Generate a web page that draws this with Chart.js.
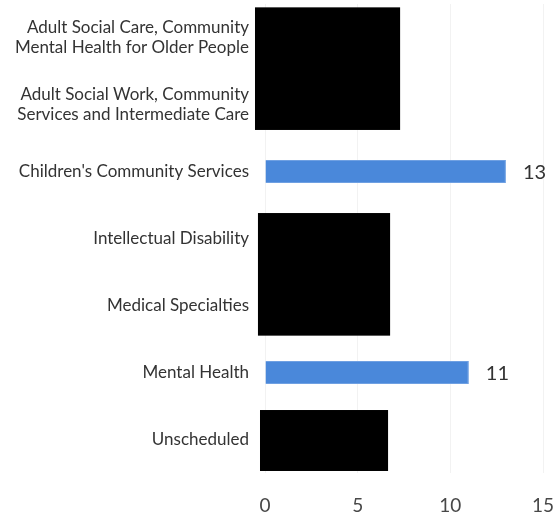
<!DOCTYPE html>
<html>
<head>
<meta charset="utf-8">
<script src="https://cdn.jsdelivr.net/npm/chart.js@4"></script>
<style>
  html, body { margin: 0; padding: 0; background: #fff; }
  #wrap { width: 558px; height: 519px; }
</style>
</head>
<body>
<div id="wrap"><canvas id="chart"></canvas></div>
<script>
const categories = [
  ["Adult Social Care, Community", "Mental Health for Older People"],
  ["Adult Social Work, Community", "Services and Intermediate Care"],
  "Children's Community Services",
  "Intellectual Disability",
  "Medical Specialties",
  "Mental Health",
  "Unscheduled"
];
// redacted values are unknown (blacked out in the source)
const counts = [null, null, 13, null, null, 11, null];
const xTicks = [0, 5, 10, 15];

// black redaction boxes over the hidden bars, in axis units (category index / x value)
const redactions = [
  { yFrom: -0.45, yTo: 1.38, xMin: -0.54, xMax: 7.29 },
  { yFrom: 2.62, yTo: 4.45, xMin: -0.38, xMax: 6.75 },
  { yFrom: 5.56, yTo: 6.47, xMin: -0.27, xMax: 6.64 }
];

const valueLabels = {
  id: 'valueLabels',
  afterDatasetsDraw(chart) {
    const ctx = chart.ctx;
    const meta = chart.getDatasetMeta(0);
    ctx.save();
    ctx.font = '20px Lato';
    ctx.fillStyle = '#333';
    ctx.textBaseline = 'middle';
    meta.data.forEach((bar, i) => {
      if (counts[i] == null) return;
      ctx.fillText(String(counts[i]), bar.x + 17, bar.y + 1);
    });
    ctx.restore();
  }
};

const redact = {
  id: 'redact',
  afterDraw(chart) {
    const ctx = chart.ctx;
    const xs = chart.scales.x, ys = chart.scales.y;
    const y0 = ys.getPixelForValue(0);
    const step = ys.getPixelForValue(1) - y0;
    ctx.save();
    ctx.fillStyle = '#000';
    redactions.forEach(r => {
      const top = y0 + step * r.yFrom;
      const bottom = y0 + step * r.yTo;
      const left = xs.getPixelForValue(r.xMin);
      const right = xs.getPixelForValue(r.xMax);
      ctx.fillRect(left, top, right - left, bottom - top);
    });
    ctx.restore();
  }
};

new Chart(document.getElementById('chart'), {
  type: 'bar',
  data: {
    labels: categories,
    datasets: [{
      data: counts,
      backgroundColor: '#4A88DA',
      borderColor: '#6FA0E2',
      borderWidth: 1,
      barPercentage: 0.34,
      categoryPercentage: 1
    }]
  },
  options: {
    indexAxis: 'y',
    responsive: true,
    maintainAspectRatio: false,
    animation: false,
    layout: { padding: { top: 4, right: 15, left: 0, bottom: 0 } },
    plugins: { legend: { display: false }, tooltip: { enabled: false } },
    scales: {
      x: {
        min: 0, max: 15,
        afterBuildTicks(scale) { scale.ticks = xTicks.map(v => ({ value: v })); },
        afterFit(scale) { scale.height = 46; scale.paddingLeft = 0; scale.paddingRight = 0; },
        grid: { color: '#f2f2f2', drawTicks: false },
        border: { display: false },
        ticks: { padding: 21, font: { family: 'Lato', size: 19 }, color: '#484848' }
      },
      y: {
        afterFit(scale) { scale.width = 265; scale.paddingTop = 0; scale.paddingBottom = 0; },
        grid: { display: false, drawTicks: false },
        border: { display: false },
        ticks: { padding: 16, font: { family: 'Lato', size: 17 }, color: '#333' }
      }
    }
  },
  plugins: [valueLabels, redact]
});
</script>
</body>
</html>
